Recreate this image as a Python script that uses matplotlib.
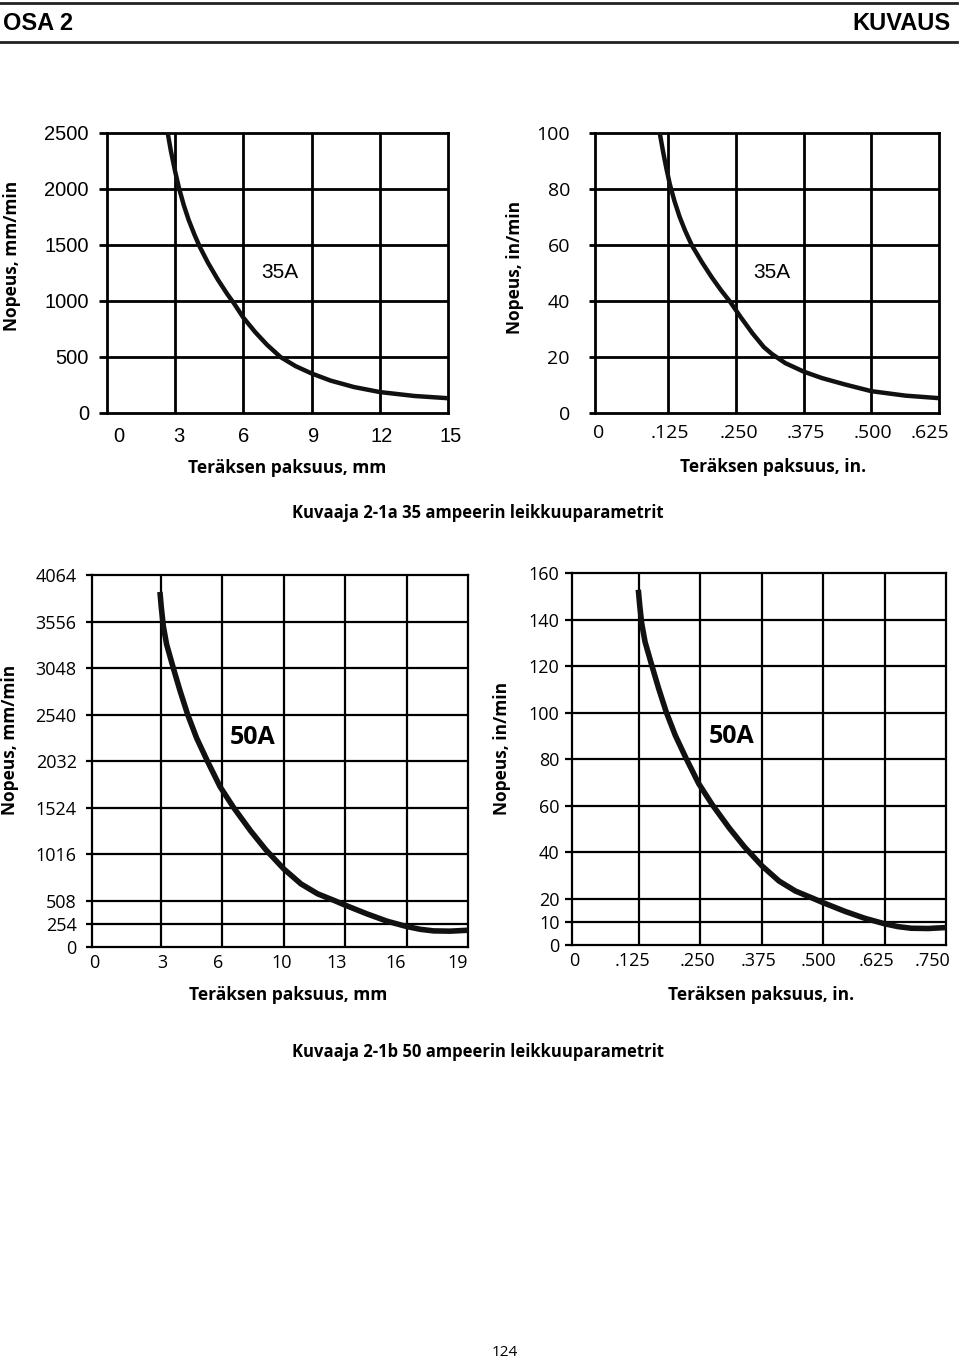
import matplotlib
matplotlib.use("Agg")
import matplotlib.pyplot as plt
import matplotlib.transforms as mtransforms
from matplotlib.lines import Line2D

# ---- data ----
# 35 A, metric: thickness mm, speed mm/min
mm35_x = [2.67, 2.81, 3.0, 3.17, 3.38, 3.59, 3.85, 4.09, 4.44, 4.87, 5.29, 5.58,
          6.0, 6.52, 7.04, 7.63, 8.30, 9.0, 9.84, 10.86, 12.0, 13.52, 15.0]
mm35_y = [2500, 2340, 2154, 2006, 1854, 1725, 1591, 1480, 1342, 1193, 1062, 980,
          851, 722, 609, 500, 418, 353, 289, 232, 187, 152, 132]
# 35 A, inch: thickness in, speed in/min
in35_x = [0.1095, 0.1157, 0.1219, 0.128, 0.1365, 0.1461, 0.1564, 0.1685, 0.1866,
          0.2047, 0.2228, 0.2391, 0.2591, 0.2805, 0.3018, 0.3171, 0.3415, 0.375,
          0.4085, 0.4512, 0.5, 0.5631, 0.625]
in35_y = [100, 93.3, 87.2, 81.8, 75.8, 70.1, 65.1, 60, 54.1, 48.7, 43.8, 39.8,
          34.2, 28.5, 23.5, 21.0, 17.8, 14.8, 12.5, 10.2, 7.8, 6.2, 5.3]
# 50 A, metric
mm50_x = [3.123, 3.192, 3.296, 3.468, 3.813, 4.159, 4.555, 5.021, 5.574, 6.229,
          6.929, 7.806, 8.595, 9.525, 10.417, 11.275, 12.134, 12.7, 13.85, 14.88,
          15.875, 16.588, 17.267, 18.116, 19.05]
mm50_y = [3879, 3712, 3508, 3306, 3048, 2801, 2540, 2282, 2032, 1752,
          1524, 1270, 1063, 853, 689, 581, 508, 457, 360, 281,
          224, 193, 176, 173, 183]
# 50 A, inch
in50_x = [0.1236, 0.1264, 0.1305, 0.1373, 0.151, 0.1646, 0.1803, 0.1988, 0.2206,
          0.2466, 0.274, 0.3084, 0.3393, 0.3755, 0.4102, 0.4435, 0.4767, 0.4987,
          0.5439, 0.5845, 0.6236, 0.6523, 0.6796, 0.7138, 0.75]
in50_y = [152.8, 146.2, 138.3, 130.4, 120.3, 110.6, 100.3, 90.2, 80.4,
          69.4, 60.4, 50.4, 42.3, 34.0, 27.5, 23.2, 20.3, 18.3,
          14.5, 11.5, 9.2, 7.9, 7.2, 7.1, 7.5]

# axis ticks / labels
mm35_ticks = [0, 3, 6, 9, 12, 15]
mm35_yticks = [0, 500, 1000, 1500, 2000, 2500]
in35_ticks = [0, 0.125, 0.25, 0.375, 0.5, 0.625]
in35_labels = ['0', '.125', '.250', '.375', '.500', '.625']
in35_yticks = [0, 20, 40, 60, 80, 100]
mm50_ticks = [0, 3.175, 6.35, 9.525, 12.7, 15.875, 19.05]
mm50_labels = ['0', '3', '6', '10', '13', '16', '19']
mm50_yticks = [0, 254, 508, 1016, 1524, 2032, 2540, 3048, 3556, 4064]
in50_ticks = [0, 0.125, 0.25, 0.375, 0.5, 0.625, 0.75]
in50_labels = ['0', '.125', '.250', '.375', '.500', '.625', '.750']
in50_yticks = [0, 10, 20, 40, 60, 80, 100, 120, 140, 160]

W, H = 960, 1361
TYPE = 'Open Sans'
SCAN = 'Liberation Sans'

fig = plt.figure(figsize=(W / 100, H / 100), dpi=100)


def add_ax(x0, y0, x1, y1):
    return fig.add_axes([x0 / W, 1 - y1 / H, (x1 - x0) / W, (y1 - y0) / H])


def ftext(x, y, s, **kw):
    return fig.text(x / W, 1 - y / H, s, **kw)


def setup(ax, xlim, ylim, xgrid, ygrid, lw):
    ax.set_xlim(*xlim)
    ax.set_ylim(*ylim)
    for s in ax.spines.values():
        s.set_linewidth(lw)
    for x in xgrid:
        ax.axvline(x, color='k', lw=lw, zorder=1)
    for y in ygrid:
        ax.axhline(y, color='k', lw=lw, zorder=1)


def shift_xlabels(ax, offsets):
    # small horizontal nudges (pixels) so labels sit where the scan has them
    for lab, dx in zip(ax.get_xticklabels(), offsets):
        lab.set_transform(lab.get_transform() +
                          mtransforms.ScaledTranslation(dx / 100, 0, fig.dpi_scale_trans))


curve = dict(color='#111', zorder=3, solid_capstyle='butt', solid_joinstyle='round')

# ---- top left: 35A mm ----
ax1 = add_ax(107, 133, 448, 413)
setup(ax1, (0, 15), (0, 2500), mm35_ticks[1:-1], mm35_yticks[1:-1], 2.0)
ax1.plot(mm35_x, mm35_y, lw=3.2, **curve)
ax1.set_xticks(mm35_ticks, [str(t) for t in mm35_ticks], fontsize=14.5, family=SCAN)
ax1.set_yticks(mm35_yticks, [str(t) for t in mm35_yticks], fontsize=14.5, family=SCAN)
ax1.tick_params(axis='x', length=0, pad=10)
ax1.tick_params(axis='y', length=6, width=2.0, pad=7)
shift_xlabels(ax1, [12, 4, 0, 2, 2, 3])
ftext(280, 272, '35A', fontsize=15, family=SCAN, ha='center', va='center')

# ---- top right: 35A in ----
ax2 = add_ax(595, 133, 939, 413)
setup(ax2, (-0.01, 0.625), (0, 100), in35_ticks[1:-1], in35_yticks[1:-1], 2.0)
ax2.plot(in35_x, in35_y, lw=3.2, **curve)
ax2.set_xticks(in35_ticks, in35_labels, fontsize=14, family=TYPE)
ax2.set_yticks(in35_yticks, [str(t) for t in in35_yticks], fontsize=14, family=TYPE)
ax2.tick_params(axis='x', length=0, pad=8)
ax2.tick_params(axis='y', length=4, width=2.0, pad=14)
shift_xlabels(ax2, [-2, 2, 3, 2, 2, -9])
ftext(772, 272, '35A', fontsize=15, family=SCAN, ha='center', va='center')

# ---- bottom left: 50A mm ----
ax3 = add_ax(92, 575, 468, 947)
setup(ax3, (-0.39, 19.05), (0, 4064), mm50_ticks[1:-1], mm50_yticks[1:-1], 1.6)
ax3.plot(mm50_x, mm50_y, lw=4.0, **curve)
ax3.set_xticks(mm50_ticks, mm50_labels, fontsize=13, family=TYPE)
ax3.set_yticks(mm50_yticks, [str(t) for t in mm50_yticks], fontsize=13, family=TYPE)
ax3.tick_params(axis='x', length=0, pad=5)
ax3.tick_params(axis='y', length=4, width=1.6, pad=7)
shift_xlabels(ax3, [-5, 1, -4, -2, -9, -11, -10])
ftext(253, 738, '50A', fontsize=18, family=TYPE, weight='bold', ha='center', va='center')

# ---- bottom right: 50A in ----
ax4 = add_ax(572, 573, 946, 945)
setup(ax4, (-0.0114, 0.75), (0, 160), in50_ticks[1:-1], in50_yticks[1:-1], 1.6)
ax4.plot(in50_x, in50_y, lw=4.0, **curve)
ax4.set_xticks(in50_ticks, in50_labels, fontsize=13, family=TYPE)
ax4.set_yticks(in50_yticks, [str(t) for t in in50_yticks], fontsize=13, family=TYPE)
ax4.tick_params(axis='x', length=0, pad=5)
ax4.tick_params(axis='y', length=5, width=1.6, pad=4)
shift_xlabels(ax4, [-3, -7, -3, -3, -5, -8, -13])
ftext(732, 737, '50A', fontsize=18, family=TYPE, weight='bold', ha='center', va='center')

# ---- axis titles ----
lab = dict(fontsize=12.5, family=TYPE, weight='bold', ha='center', va='center')
ftext(12, 256, 'Nopeus, mm/min', rotation=90, **lab)
ftext(515, 267, 'Nopeus, in/min', rotation=90, **lab)
ftext(10, 740, 'Nopeus, mm/min', rotation=90, **lab)
ftext(502, 748, 'Nopeus, in/min', rotation=90, **lab)
ftext(287, 468, 'Teräksen paksuus, mm', **lab)
ftext(773, 467, 'Teräksen paksuus, in.', **lab)
ftext(288, 995, 'Teräksen paksuus, mm', **lab)
ftext(761, 995, 'Teräksen paksuus, in.', **lab)

# ---- captions ----
cap = dict(lab, fontsize=12)
ftext(478, 513, 'Kuvaaja 2-1a 35 ampeerin leikkuuparametrit', **cap)
ftext(478, 1052, 'Kuvaaja 2-1b 50 ampeerin leikkuuparametrit', **cap)
ftext(505, 1353, '124', fontsize=11, family=TYPE, ha='center', va='center')

# ---- page header ----
head = dict(fontsize=17, family=['Liberation Sans Narrow', SCAN], weight='bold', va='center')
ftext(3, 24, 'OSA 2', ha='left', **head)
ftext(951, 24, 'KUVAUS', ha='right', **head)
for yy in (3, 42):
    fig.add_artist(Line2D([0, 957 / W], [1 - yy / H] * 2, color='#222', lw=2.0))

plt.savefig('out.png', dpi=100)
